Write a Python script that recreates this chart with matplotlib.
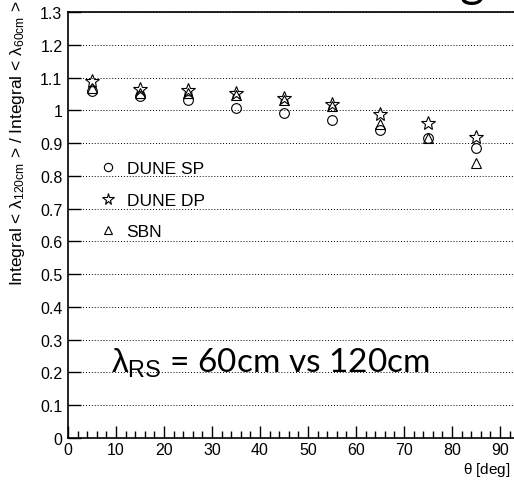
import numpy as np
import matplotlib
matplotlib.use("Agg")
from matplotlib import pyplot as plt
from matplotlib.ticker import MultipleLocator

plt.rcParams['font.family'] = ['Liberation Sans', 'DejaVu Sans']
plt.rcParams['mathtext.fontset'] = 'custom'
plt.rcParams['mathtext.rm'] = 'Liberation Sans'
plt.rcParams['mathtext.it'] = 'Liberation Sans'

# data
theta = [5, 15, 25, 35, 45, 55, 65, 75, 85]
dune_sp = [1.058, 1.044, 1.031, 1.007, 0.993, 0.970, 0.940, 0.914, 0.886]
dune_dp = [1.089, 1.066, 1.062, 1.052, 1.037, 1.020, 0.988, 0.960, 0.919]
sbn = [1.069, 1.054, 1.052, 1.046, 1.031, 1.013, 0.957, 0.917, 0.838]

W, H = 514, 481
fig = plt.figure(figsize=(W/100., H/100.), dpi=100)
x0, x1 = 68., 68. + 95*4.8
y0, y1 = 439., 13.
ax = fig.add_axes([x0/W, 1 - y0/H, (x1 - x0)/W, (y0 - y1)/H])

mk = dict(linestyle='none', markerfacecolor='none', markeredgecolor='black', markeredgewidth=0.8)
ax.plot(theta, dune_sp, marker='o', markersize=7, label='DUNE SP', **mk)
ax.plot(theta, dune_dp, marker='*', markersize=10, label='DUNE DP', **mk)
ax.plot(theta, sbn, marker='^', markersize=7, label='SBN', **mk)

ax.set_xlim(0, 95)
ax.set_ylim(0, 1.3)
ax.xaxis.set_major_locator(MultipleLocator(10))
ax.xaxis.set_minor_locator(MultipleLocator(2))
ax.set_yticks(np.arange(0, 1.31, 0.1))
ax.set_yticklabels(['0', '0.1', '0.2', '0.3', '0.4', '0.5', '0.6', '0.7', '0.8', '0.9', '1', '1.1', '1.2', '1.3'])
ax.tick_params(axis='both', which='both', direction='in', labelsize=11.5, width=1)
ax.tick_params(axis='x', which='major', length=9, pad=3)
ax.tick_params(axis='x', which='minor', length=5)
ax.tick_params(axis='y', which='major', length=9, pad=4)
ax.grid(axis='y', color='black', linestyle=(0, (1, 2)), linewidth=0.7)
for s in ['left', 'bottom', 'top']:
    ax.spines[s].set_linewidth(1.2)

leg = ax.legend(loc='upper left', bbox_to_anchor=(0.058, 0.667), frameon=False,
                fontsize=12.5, handlelength=0.8, handletextpad=0.65,
                labelspacing=0.95, borderaxespad=0, markerscale=0.85)

fig.text(511/W, 1 - 470/H, r'$\theta$ [deg]', ha='right', va='center', fontsize=11)
fig.text(18/W, 1.0, r'Integral < $\lambda_{120cm}$ > / Integral < $\lambda_{60cm}$ >',
         rotation=90, ha='center', va='top', fontsize=12.5)

fig.text(430/W, 1 - 373/H, r'$\lambda_{\mathrm{RS}}$ = 60cm vs 120cm', ha='right',
         va='baseline', fontsize=24, family=['Lato', 'DejaVu Sans'])
fig.text(472/W, 1.006, 'g', ha='center', va='baseline', fontsize=34,
         family=['Lato', 'DejaVu Sans'])

fig.savefig('out.png', dpi=100)
